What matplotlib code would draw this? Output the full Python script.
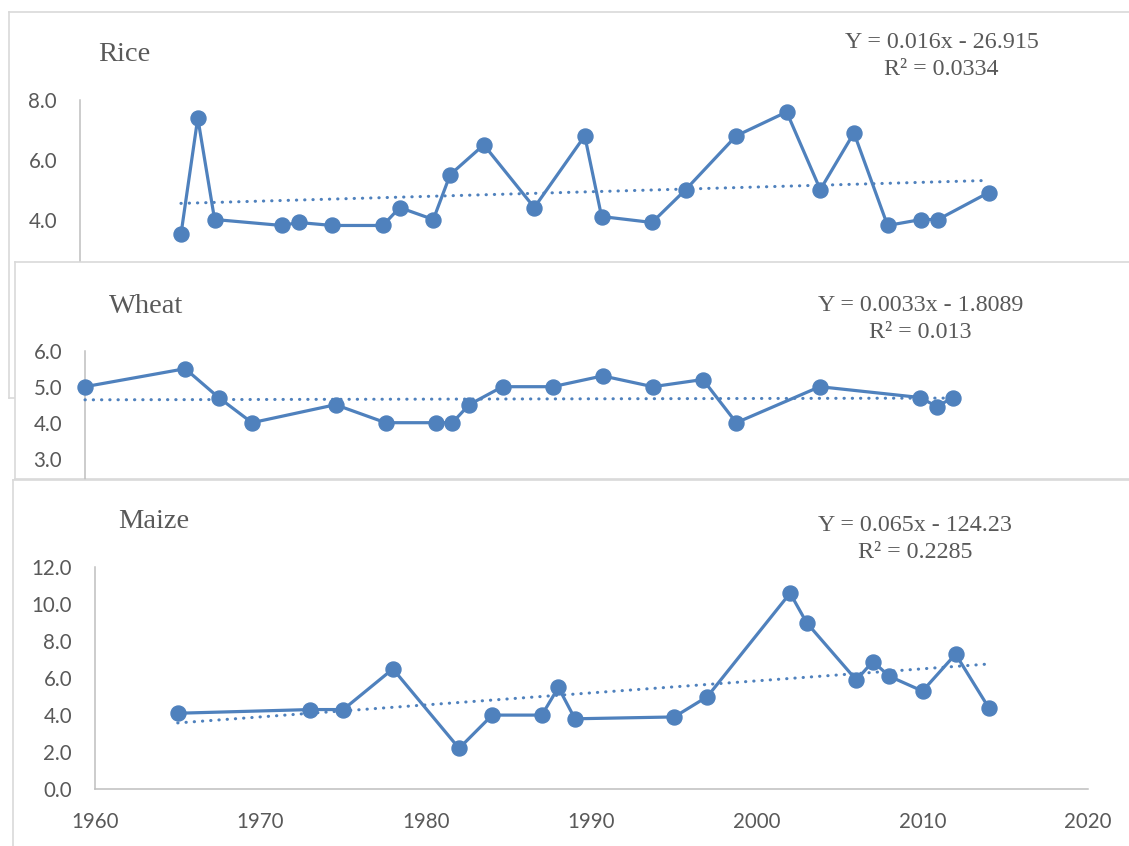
import matplotlib.pyplot as plt
import numpy as np

# three Excel-style charts stacked on top of each other
W, H = 1129, 846

rice_years = [1966, 1967, 1968, 1972, 1973, 1975, 1978, 1979, 1981, 1982, 1984, 1987,
              1990, 1991, 1994, 1996, 1999, 2002, 2004, 2006, 2008, 2010, 2011, 2014]
rice_vals = [3.5, 7.4, 4.0, 3.8, 3.9, 3.8, 3.8, 4.4, 4.0, 5.5, 6.5, 4.4,
             6.8, 4.1, 3.9, 5.0, 6.8, 7.6, 5.0, 6.9, 3.8, 4.0, 4.0, 4.9]

wheat_years = [1960, 1966, 1968, 1970, 1975, 1978, 1981, 1982, 1983, 1985, 1988,
               1991, 1994, 1997, 1999, 2004, 2010, 2011, 2012]
wheat_vals = [5.0, 5.5, 4.7, 4.0, 4.5, 4.0, 4.0, 4.0, 4.5, 5.0, 5.0,
              5.3, 5.0, 5.2, 4.0, 5.0, 4.7, 4.45, 4.7]

maize_years = [1965, 1973, 1975, 1978, 1982, 1984, 1987, 1988, 1989, 1995,
               1997, 2002, 2003, 2006, 2007, 2008, 2010, 2012, 2014]
maize_vals = [4.1, 4.3, 4.3, 6.5, 2.2, 4.0, 4.0, 5.5, 3.8, 3.9,
              5.0, 10.6, 9.0, 5.9, 6.9, 6.1, 5.3, 7.3, 4.4]

titles = ['Rice', 'Wheat', 'Maize']
equations = [('Y = 0.016x - 26.915', 'R² = 0.0334'),
             ('Y = 0.0033x - 1.8089', 'R² = 0.013'),
             ('Y = 0.065x - 124.23', 'R² = 0.2285')]
# only the tick labels that are not hidden under the next chart
rice_ticks = [4, 6, 8]
wheat_ticks = [3, 4, 5, 6]
maize_ticks = [0, 2, 4, 6, 8, 10, 12]
x_ticks = [1960, 1970, 1980, 1990, 2000, 2010, 2020]

BLUE = '#4f81bd'
TXT = '#595959'
AXIS_GREY = '#bfbfbf'
FRAME_GREY = '#d9d9d9'

plt.rcParams['font.family'] = ['Lato', 'DejaVu Sans']

fig = plt.figure(figsize=(W / 100, H / 100), dpi=100)


def px_axes(left, top, right, bottom):
    return fig.add_axes([left / W, 1 - bottom / H, (right - left) / W, (bottom - top) / H])


def frame(box):
    ax = px_axes(*box)
    ax.set_xticks([])
    ax.set_yticks([])
    ax.set_facecolor('white')
    for s in ax.spines.values():
        s.set_color(FRAME_GREY)
        s.set_linewidth(1.2)
    return ax


def panel(frame_box, box, years, vals, ylim, yticks, title, title_pos, eq, eq_pos, show_x=False):
    fr = frame(frame_box)
    fr.text(title_pos[0] / W, 1 - title_pos[1] / H, title, transform=fig.transFigure,
            family='Liberation Serif', fontsize=20.5, color=TXT, va='baseline', ha='left')
    fr.text(eq_pos[0] / W, 1 - eq_pos[1] / H, eq[0], transform=fig.transFigure,
            family='Liberation Serif', fontsize=17.3, color=TXT, va='baseline', ha='center')
    fr.text(eq_pos[0] / W, 1 - (eq_pos[1] + 27) / H, eq[1], transform=fig.transFigure,
            family='Liberation Serif', fontsize=17.3, color=TXT, va='baseline', ha='center')

    ax = px_axes(*box)
    ax.patch.set_alpha(0)
    ax.plot(years, vals, color=BLUE, lw=2.3, marker='o', ms=10.8, zorder=3, clip_on=False)
    # linear trend line fitted to the series
    k, b = np.polyfit(years, vals, 1)
    xs = np.array([min(years), max(years)])
    ax.plot(xs, k * xs + b, color=BLUE, lw=2.2, linestyle=(0, (0.1, 2.6)),
            dash_capstyle='round', zorder=4, clip_on=False)
    ax.set_xlim(1960, 2020)
    ax.set_ylim(*ylim)
    ax.set_yticks(yticks, [f'{t:.1f}' for t in yticks])
    if show_x:
        ax.set_xticks(x_ticks, [str(t) for t in x_ticks])
    else:
        ax.set_xticks([])
    ax.tick_params(length=0, pad=16.5, labelsize=14.8, labelcolor=TXT)
    for side in ['top', 'right']:
        ax.spines[side].set_visible(False)
    ax.spines['left'].set_color(AXIS_GREY)
    ax.spines['left'].set_linewidth(1.1)
    ax.spines['bottom'].set_color(AXIS_GREY)
    ax.spines['bottom'].set_linewidth(1.1)
    ax.spines['bottom'].set_visible(show_x)
    return ax


panel((8.6, 12, 1140, 398), (80, 100, 1089.5, 339), rice_years, rice_vals,
      (0, 8), rice_ticks, titles[0], (98, 60.7), equations[0], (941.5, 48.3))
panel((15, 262, 1140, 479), (85, 350.7, 1087, 566.7), wheat_years, wheat_vals,
      (0, 6), wheat_ticks, titles[1], (109, 313.3), equations[1], (920.5, 311))
panel((13, 480, 1140, 870), (95, 567.3, 1088, 789), maize_years, maize_vals,
      (0, 12), maize_ticks, titles[2], (118, 527.7), equations[2], (915, 531),
      show_x=True)

fig.savefig('out.png', dpi=100)
